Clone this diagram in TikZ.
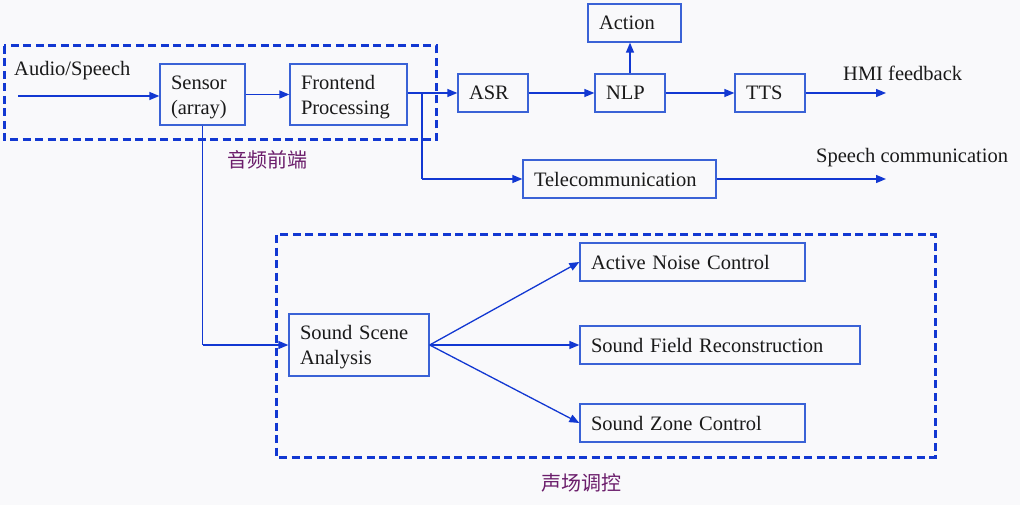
\documentclass[tikz,border=0pt]{standalone}
\usepackage{fontspec}
\setmainfont{Liberation Serif}
\newfontfamily\cjk{Noto Sans CJK SC}
\usetikzlibrary{arrows.meta}
\definecolor{linec}{HTML}{1238D2}
\definecolor{boxc}{HTML}{3A62D6}
\definecolor{bgc}{HTML}{F9F9FB}
\definecolor{txtc}{HTML}{1A1A1A}
\definecolor{cjkc}{HTML}{6B1D6B}
\newcommand\fs{\fontsize{20.5}{25}\selectfont}
\tikzset{
  box/.style={draw=boxc, line width=1.3pt, inner xsep=11pt, inner ysep=0pt, align=left, font=\fs, text=txtc},
  conn/.style={draw=linec, line width=1.3pt, -{Triangle[length=10pt,width=8pt]}},
  plain/.style={draw=linec, line width=1.3pt},
  group/.style={draw=linec, line width=3pt, dash pattern=on 8pt off 4.5pt},
  lbl/.style={font=\fs, text=txtc, inner sep=0pt},
  cjklbl/.style={font=\cjk\fontsize{20}{24}\selectfont, text=cjkc, inner sep=0pt}
}
\begin{document}
\begin{tikzpicture}[x=1pt,y=-1pt]
\fill[bgc] (0,0) rectangle (1020,505);
\useasboundingbox (0,0) rectangle (1020,505);
% groups
\draw[group] (4,46) rectangle (436,140);
\draw[group] (276,235) rectangle (935,457);
% boxes
\node[box, minimum width=85pt, text width=63pt, minimum height=61pt] (sensor) at (202.5,94.5) {\rule{0pt}{19pt}Sensor\\(array)};
\node[box, minimum width=117pt, text width=95pt, minimum height=61pt] (front) at (348.5,94.5) {\rule{0pt}{19pt}Frontend\\Processing};
\node[box, minimum width=70pt, text width=48pt, minimum height=38pt] (asr) at (493,93) {ASR};
\node[box, minimum width=70pt, text width=48pt, minimum height=38pt] (nlp) at (630,93) {NLP};
\node[box, minimum width=93pt, text width=71pt, minimum height=38pt] (action) at (634.5,23) {Action};
\node[box, minimum width=70pt, text width=48pt, minimum height=38pt] (tts) at (770,93) {TTS};
\node[box, minimum width=193pt, text width=171pt, minimum height=38pt] (tele) at (619.5,179) {Telecommunication};
\node[box, minimum width=140pt, text width=118pt, minimum height=62pt] (ssa) at (359,345) {\rule{0pt}{19pt}Sound Scene\\Analysis};
\node[box, minimum width=225pt, text width=203pt, minimum height=38pt] (anc) at (692.5,262) {Active Noise Control};
\node[box, minimum width=280pt, text width=258pt, minimum height=38pt] (sfr) at (720,345) {Sound Field Reconstruction};
\node[box, minimum width=225pt, text width=203pt, minimum height=38pt] (szc) at (692.5,423) {Sound Zone Control};
% labels
\node[lbl, anchor=base west] (audio) at (14,76) {Audio/Speech};
\node[lbl, anchor=base west] (hmi) at (843,81) {HMI feedback};
\node[lbl, anchor=base west] (speech) at (816,163) {Speech communication};
\node[cjklbl] (fe) at (267,160) {音频前端};
\node[cjklbl] (sc) at (581,483) {声场调控};
% free ends
\coordinate (ain) at (18,96);
\coordinate (br) at (422,93);
\coordinate (hmiend) at (886,93);
\coordinate (spend) at (886,179);
% connectors
\draw[conn] (ain) -- (sensor.west |- ain);
\draw[conn] (sensor.east) -- (front.west);
\draw[conn] (front.east |- asr.west) -- (asr.west);
\draw[plain] (br) -- (br |- tele.west);
\draw[conn] (br |- tele.west) -- (tele.west);
\draw[conn] (asr.east) -- (nlp.west);
\draw[conn] (nlp.north) -- (nlp.north |- action.south);
\draw[conn] (nlp.east) -- (tts.west);
\draw[conn] (tts.east) -- (hmiend);
\draw[conn] (tele.east) -- (spend);
\draw[plain] (sensor.south) -- (sensor.south |- ssa.west);
\draw[conn] (sensor.south |- ssa.west) -- (ssa.west);
\draw[conn] (ssa.east) -- (anc.west);
\draw[conn] (ssa.east) -- (sfr.west);
\draw[conn] (ssa.east) -- (szc.west);
\end{tikzpicture}
\end{document}
